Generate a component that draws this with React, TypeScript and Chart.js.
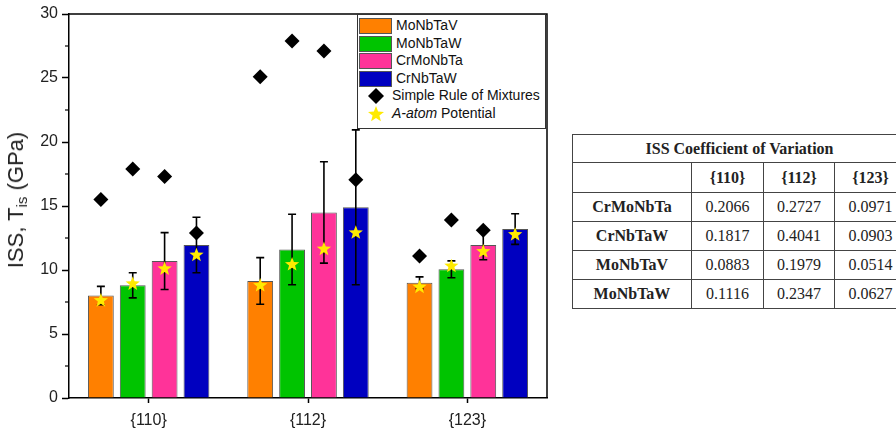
import React, { useEffect, useRef } from "react";
import { Chart, registerables } from "chart.js";
Chart.register(...registerables);

// ---------- data ----------
const categories = ["{110}", "{112}", "{123}"];
const alloys = ["MoNbTaV", "MoNbTaW", "CrMoNbTa", "CrNbTaW"];
const barColors = ["#FF8000", "#00C400", "#FF3399", "#0000C0"];

// ISS bar heights (GPa)
const issMoNbTaV = [8.0, 9.15, 9.0];
const issMoNbTaW = [8.8, 11.6, 10.05];
const issCrMoNbTa = [10.7, 14.5, 11.95];
const issCrNbTaW = [11.95, 14.9, 13.2];

// error half-widths (GPa)
const errMoNbTaV = [0.72, 1.82, 0.46];
const errMoNbTaW = [0.98, 2.75, 0.66];
const errCrMoNbTa = [2.22, 3.96, 1.15];
const errCrNbTaW = [2.17, 6.05, 1.2];

// Simple Rule of Mixtures (diamonds)
const romMoNbTaV = [15.5, 25.1, 11.1];
const romMoNbTaW = [17.9, 27.9, 13.9];
const romCrMoNbTa = [17.3, 27.1, 13.1];
const romCrNbTaW = [12.9, 17.05, null];

// A-atom Potential (stars)
const aatomMoNbTaV = [7.65, 8.83, 8.7];
const aatomMoNbTaW = [8.96, 10.47, 10.34];
const aatomCrMoNbTa = [10.13, 11.67, 11.48];
const aatomCrNbTaW = [11.2, 12.95, 12.8];

const yTicks = [0, 5, 10, 15, 20, 25, 30];
const yMinorTicks = [2.5, 7.5, 12.5, 17.5, 22.5, 27.5];

// table: ISS Coefficient of Variation
const cvAlloys = ["CrMoNbTa", "CrNbTaW", "MoNbTaV", "MoNbTaW"];
const cv110 = ["0.2066", "0.1817", "0.0883", "0.1116"];
const cv112 = ["0.2727", "0.4041", "0.1979", "0.2347"];
const cv123 = ["0.0971", "0.0903", "0.0514", "0.0627"];

const issAll = [issMoNbTaV, issMoNbTaW, issCrMoNbTa, issCrNbTaW];
const errAll = [errMoNbTaV, errMoNbTaW, errCrMoNbTa, errCrNbTaW];
const romAll = [romMoNbTaV, romMoNbTaW, romCrMoNbTa, romCrNbTaW];
const aatomAll = [aatomMoNbTaV, aatomMoNbTaW, aatomCrMoNbTa, aatomCrNbTaW];

const SANS = "'Liberation Sans', Arial, sans-serif";
const SERIF = "'Liberation Serif', 'Times New Roman', serif";
const STAR_COLOR = "#FFEA00";

function starPath(ctx: CanvasRenderingContext2D, cx: number, cy: number, ro: number) {
  const ri = ro * 0.42;
  ctx.beginPath();
  for (let k = 0; k < 10; k++) {
    const r = k % 2 === 0 ? ro : ri;
    const a = -Math.PI / 2 + (k * Math.PI) / 5;
    const px = cx + r * Math.cos(a), py = cy + r * Math.sin(a);
    if (k === 0) ctx.moveTo(px, py); else ctx.lineTo(px, py);
  }
  ctx.closePath();
}

const errorBarPlugin = {
  id: "errorBars",
  afterDatasetDraw(chart: any, args: any) {
    const meta = args.meta;
    if (meta.type !== "bar") return;
    const errs = errAll[args.index];
    const vals = issAll[args.index];
    const y = chart.scales.y;
    const ctx = chart.ctx;
    ctx.save();
    ctx.strokeStyle = "#000";
    ctx.lineWidth = 1.6;
    meta.data.forEach((el: any, i: number) => {
      const e = errs[i];
      if (e == null) return;
      const x = el.x;
      const yt = y.getPixelForValue(vals[i] + e);
      const yb = y.getPixelForValue(vals[i] - e);
      ctx.beginPath();
      ctx.moveTo(x, yt);
      ctx.lineTo(x, yb);
      ctx.moveTo(x - 4, yt);
      ctx.lineTo(x + 4, yt);
      ctx.moveTo(x - 4, yb);
      ctx.lineTo(x + 4, yb);
      ctx.stroke();
    });
    ctx.restore();
  },
};

// diamonds and stars sit on the centre of each bar, at their own value on the y scale
const markerPlugin = {
  id: "markers",
  afterDatasetsDraw(chart: any) {
    const y = chart.scales.y;
    const ctx = chart.ctx;
    ctx.save();
    alloys.forEach((_, j) => {
      const meta = chart.getDatasetMeta(j);
      meta.data.forEach((el: any, i: number) => {
        const v = romAll[j][i];
        if (v == null) return;
        const px = el.x, py = y.getPixelForValue(v);
        const r = 7.5;
        ctx.beginPath();
        ctx.moveTo(px, py - r);
        ctx.lineTo(px + r, py);
        ctx.lineTo(px, py + r);
        ctx.lineTo(px - r, py);
        ctx.closePath();
        ctx.fillStyle = "#000";
        ctx.fill();
      });
    });
    alloys.forEach((_, j) => {
      const meta = chart.getDatasetMeta(j);
      meta.data.forEach((el: any, i: number) => {
        const v = aatomAll[j][i];
        if (v == null) return;
        starPath(ctx, el.x, y.getPixelForValue(v) + 0.5, 7.5);
        ctx.fillStyle = STAR_COLOR;
        ctx.fill();
      });
    });
    ctx.restore();
  },
};

const framePlugin = {
  id: "frame",
  afterDraw(chart: any) {
    const { left, right, top, bottom } = chart.chartArea;
    const ctx = chart.ctx;
    const y = chart.scales.y;
    ctx.save();
    ctx.strokeStyle = "#000";
    ctx.lineWidth = 1.5;
    ctx.beginPath();
    ctx.moveTo(left, top);
    ctx.lineTo(right, top);
    ctx.lineTo(right, bottom);
    ctx.stroke();
    ctx.lineWidth = 1.2;
    yMinorTicks.forEach((v) => {
      const py = y.getPixelForValue(v);
      ctx.beginPath();
      ctx.moveTo(left - 4, py);
      ctx.lineTo(left, py);
      ctx.stroke();
    });
    ctx.restore();
  },
};

function ChartCanvas() {
  const ref = useRef<HTMLCanvasElement>(null);
  useEffect(() => {
    const chart = new Chart(ref.current!, {
      type: "bar",
      data: {
        labels: categories,
        datasets: alloys.map((name, j) => ({
          label: name,
          data: issAll[j],
          backgroundColor: barColors[j],
          borderColor: "#555",
          borderWidth: 1,
          categoryPercentage: 0.8,
          barPercentage: 0.81,
        })),
      },
      options: {
        animation: false,
        responsive: false,
        maintainAspectRatio: false,
        layout: { padding: { top: 14, right: 13, bottom: 0, left: 0 } },
        plugins: { legend: { display: false }, tooltip: { enabled: false } },
        scales: {
          x: {
            type: "category",
            offset: true,
            grid: {
              offset: false,
              drawOnChartArea: false,
              drawTicks: true,
              tickLength: 5,
              tickColor: "#000",
              tickWidth: 1.5,
            },
            border: { display: true, color: "#000", width: 1.5 },
            ticks: { color: "#222", font: { family: SANS, size: 16 }, padding: 8 },
            afterFit: (s: any) => { s.height = 38; },
          },
          y: {
            min: 0,
            max: 30,
            afterBuildTicks: (s: any) => { s.ticks = yTicks.map((v) => ({ value: v })); },
            grid: {
              drawOnChartArea: false,
              tickLength: 7,
              tickColor: "#000",
              tickWidth: 1.5,
            },
            border: { display: true, color: "#000", width: 1.5 },
            ticks: { color: "#222", font: { family: SANS, size: 16 }, padding: 4 },
            afterFit: (s: any) => { s.width = 69; },
          },
        },
      } as any,
      plugins: [errorBarPlugin, markerPlugin, framePlugin],
    });
    return () => chart.destroy();
  }, []);
  return (
    <canvas
      ref={ref}
      width={560}
      height={436}
      style={{ position: "absolute", left: 0, top: 0, width: 560, height: 436 }}
    />
  );
}

function Legend() {
  const rowH = 17.5;
  const items = alloys.map((name, j) => (
    <div key={name} style={{ position: "absolute", left: 0, top: 3 + rowH * j, height: 15, width: 186 }}>
      <div
        style={{
          position: "absolute", left: 1, top: 0, width: 31, height: 14,
          background: barColors[j], border: "1px solid #555",
        }}
      />
      <span style={{ position: "absolute", left: 38, top: -1, fontSize: 14, lineHeight: "17px" }}>{name}</span>
    </div>
  ));
  return (
    <div
      style={{
        position: "absolute", left: 357, top: 14, width: 187, height: 113,
        border: "1px solid #333", background: "#fff", fontFamily: SANS, color: "#111",
      }}
    >
      {items}
      <div style={{ position: "absolute", left: 0, top: 3 + rowH * 4, height: 16, width: 186 }}>
        <svg width={18} height={18} style={{ position: "absolute", left: 9, top: -1 }}>
          <polygon points="9,1 17,9 9,17 1,9" fill="#000" />
        </svg>
        <span style={{ position: "absolute", left: 34, top: -1, fontSize: 14, lineHeight: "17px" }}>
          Simple Rule of Mixtures
        </span>
      </div>
      <div style={{ position: "absolute", left: 0, top: 3 + rowH * 5, height: 16, width: 186 }}>
        <svg width={18} height={18} style={{ position: "absolute", left: 9, top: -1 }}>
          <polygon
            points="9,1 11.1,6.6 17,6.9 12.4,10.6 13.9,16.3 9,13 4.1,16.3 5.6,10.6 1,6.9 6.9,6.6"
            fill={STAR_COLOR}
          />
        </svg>
        <span style={{ position: "absolute", left: 34, top: -1, fontSize: 14, lineHeight: "17px" }}>
          <i>A-atom</i> Potential
        </span>
      </div>
    </div>
  );
}

function CvTable() {
  const cell: React.CSSProperties = {
    border: "1px solid #444",
    textAlign: "center",
    padding: 0,
    fontSize: 16,
    color: "#222",
  };
  return (
    <table
      style={{
        position: "absolute", left: 572, top: 134, borderCollapse: "collapse",
        tableLayout: "fixed", width: 334, fontFamily: SERIF, background: "#fff",
      }}
    >
      <colgroup>
        <col style={{ width: 119 }} />
        <col style={{ width: 72 }} />
        <col style={{ width: 71 }} />
        <col style={{ width: 72 }} />
      </colgroup>
      <tbody>
        <tr style={{ height: 28 }}>
          <td colSpan={4} style={{ ...cell, fontWeight: "bold" }}>ISS Coefficient of Variation</td>
        </tr>
        <tr style={{ height: 30 }}>
          <td style={cell}></td>
          {categories.map((c) => (
            <td key={c} style={{ ...cell, fontWeight: "bold" }}>{c}</td>
          ))}
        </tr>
        {cvAlloys.map((a, r) => (
          <tr key={a} style={{ height: 29 }}>
            <td style={{ ...cell, fontWeight: "bold" }}>{a}</td>
            <td style={cell}>{cv110[r]}</td>
            <td style={cell}>{cv112[r]}</td>
            <td style={cell}>{cv123[r]}</td>
          </tr>
        ))}
      </tbody>
    </table>
  );
}

export default function App() {
  return (
    <div
      style={{
        position: "absolute", left: 0, top: 0, width: 896, height: 436,
        overflow: "hidden", background: "#fff",
      }}
    >
      <ChartCanvas />
      <div
        style={{
          position: "absolute", left: 19, top: 200, transform: "translate(-50%, -50%) rotate(-90deg)",
          whiteSpace: "nowrap", fontFamily: SANS, fontSize: 22, color: "#222", lineHeight: "24px",
        }}
      >
        ISS, T<sub style={{ fontSize: 15, verticalAlign: "-4px" }}>is</sub> (GPa)
      </div>
      <Legend />
      <CvTable />
    </div>
  );
}
